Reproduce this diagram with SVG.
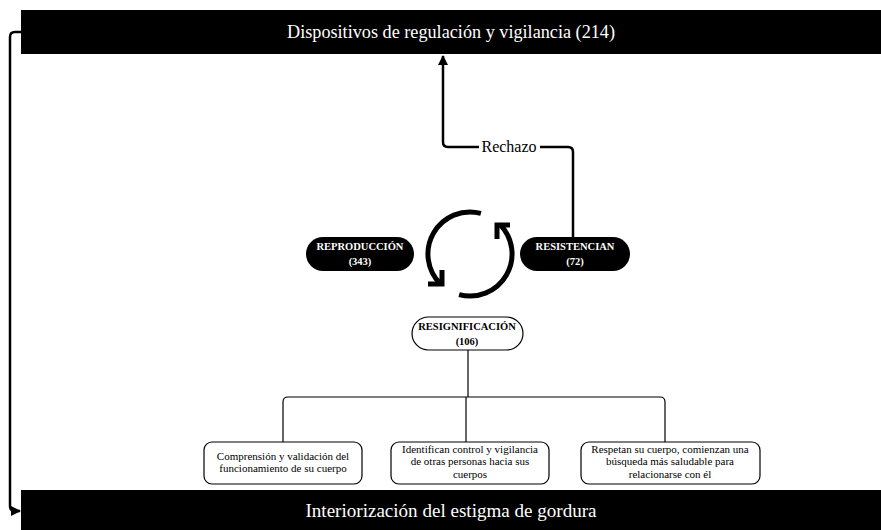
<svg xmlns="http://www.w3.org/2000/svg" width="881" height="530" viewBox="0 0 881 530">
<defs>
<style>
.bar{fill:#000}
.bartxt{font-family:"Liberation Serif",serif;font-size:18px;fill:#fff;text-anchor:middle}
.pill{fill:#000}
.pilltxt{font-family:"Liberation Serif",serif;font-size:10.5px;font-weight:bold;fill:#fff;text-anchor:middle}
.opill{fill:#fff;stroke:#000;stroke-width:1.2}
.opilltxt{font-family:"Liberation Serif",serif;font-size:10.5px;font-weight:bold;fill:#000;text-anchor:middle}
.box{fill:#fff;stroke:#000;stroke-width:1.2}
.boxtxt{font-family:"Liberation Serif",serif;font-size:11px;fill:#000;text-anchor:middle}
.conn{fill:none;stroke:#000;stroke-width:2.5;stroke-linejoin:round}
.thin{fill:none;stroke:#000;stroke-width:1.2}
.cycle{fill:none;stroke:#000;stroke-width:5;stroke-linecap:butt}
.lbl{font-family:"Liberation Serif",serif;font-size:16px;fill:#000;text-anchor:middle}
</style>
<marker id="tri" viewBox="0 0 10 10" refX="9" refY="5" markerWidth="4" markerHeight="4" orient="auto" markerUnits="strokeWidth">
<path d="M0,0 L10,5 L0,10 z" fill="#000"/>
</marker>
</defs>

<g id="connectors">
<path class="conn" d="M21,32 H15 Q10,32 10,37 V506 Q10,511 15,511 H20" marker-end="url(#tri)"/>
<path class="conn" d="M573,237 V152 Q573,147 568,147 H540 M479,147 H448 Q443,147 443,142 V56" marker-end="url(#tri)"/>
<path class="thin" d="M468,350 V397 M283,442 V402 Q283,397 288,397 H660 Q665,397 665,402 V442 M466,397 V442"/>
</g>

<g id="top-bar">
<rect class="bar" x="21" y="10" width="860" height="44"/>
<text class="bartxt" x="451" y="38" textLength="328" lengthAdjust="spacingAndGlyphs">Dispositivos de regulación y vigilancia (214)</text>
</g>

<g id="rechazo-label">
<text class="lbl" x="509" y="152">Rechazo</text>
</g>

<g id="reproduccion">
<rect class="pill" x="306" y="237" width="108" height="34" rx="17"/>
<text class="pilltxt" x="360" y="250">REPRODUCCIÓN</text>
<text class="pilltxt" x="360" y="265">(343)</text>
</g>

<g id="cycle">
<path class="cycle" d="M480.9,213.4 A42,42 0 0 0 440.3,283.7"/>
<path class="cycle" d="M428,284 H442 V270" style="stroke-linejoin:miter"/>
<path class="cycle" d="M459.1,294.6 A42,42 0 0 0 499.7,224.3"/>
<path class="cycle" d="M497,239 V225 H510" style="stroke-linejoin:miter"/>
</g>

<g id="resistencian">
<rect class="pill" x="520" y="237" width="110" height="34" rx="17"/>
<text class="pilltxt" x="575" y="250">RESISTENCIAN</text>
<text class="pilltxt" x="575" y="265">(72)</text>
</g>

<g id="resignificacion">
<rect class="opill" x="412" y="317" width="111" height="33" rx="16.5"/>
<text class="opilltxt" x="467" y="330">RESIGNIFICACIÓN</text>
<text class="opilltxt" x="467" y="345">(106)</text>
</g>

<g id="box-comprension">
<rect class="box" x="204" y="442" width="158" height="42" rx="8"/>
<text class="boxtxt" x="283" y="460">Comprensión y validación del</text>
<text class="boxtxt" x="283" y="472">funcionamiento de su cuerpo</text>
</g>

<g id="box-identifican">
<rect class="box" x="391" y="442" width="158" height="42" rx="8"/>
<text class="boxtxt" x="470" y="453">Identifican control y vigilancia</text>
<text class="boxtxt" x="470" y="465">de otras personas hacia sus</text>
<text class="boxtxt" x="470" y="478">cuerpos</text>
</g>

<g id="box-respetan">
<rect class="box" x="581" y="442" width="179" height="42" rx="8"/>
<text class="boxtxt" x="670" y="453">Respetan su cuerpo, comienzan una</text>
<text class="boxtxt" x="670" y="465">búsqueda más saludable para</text>
<text class="boxtxt" x="670" y="478">relacionarse con él</text>
</g>

<g id="bottom-bar">
<rect class="bar" x="21" y="490" width="860" height="40"/>
<text class="bartxt" x="451" y="517" textLength="291" lengthAdjust="spacingAndGlyphs">Interiorización del estigma de gordura</text>
</g>
</svg>
